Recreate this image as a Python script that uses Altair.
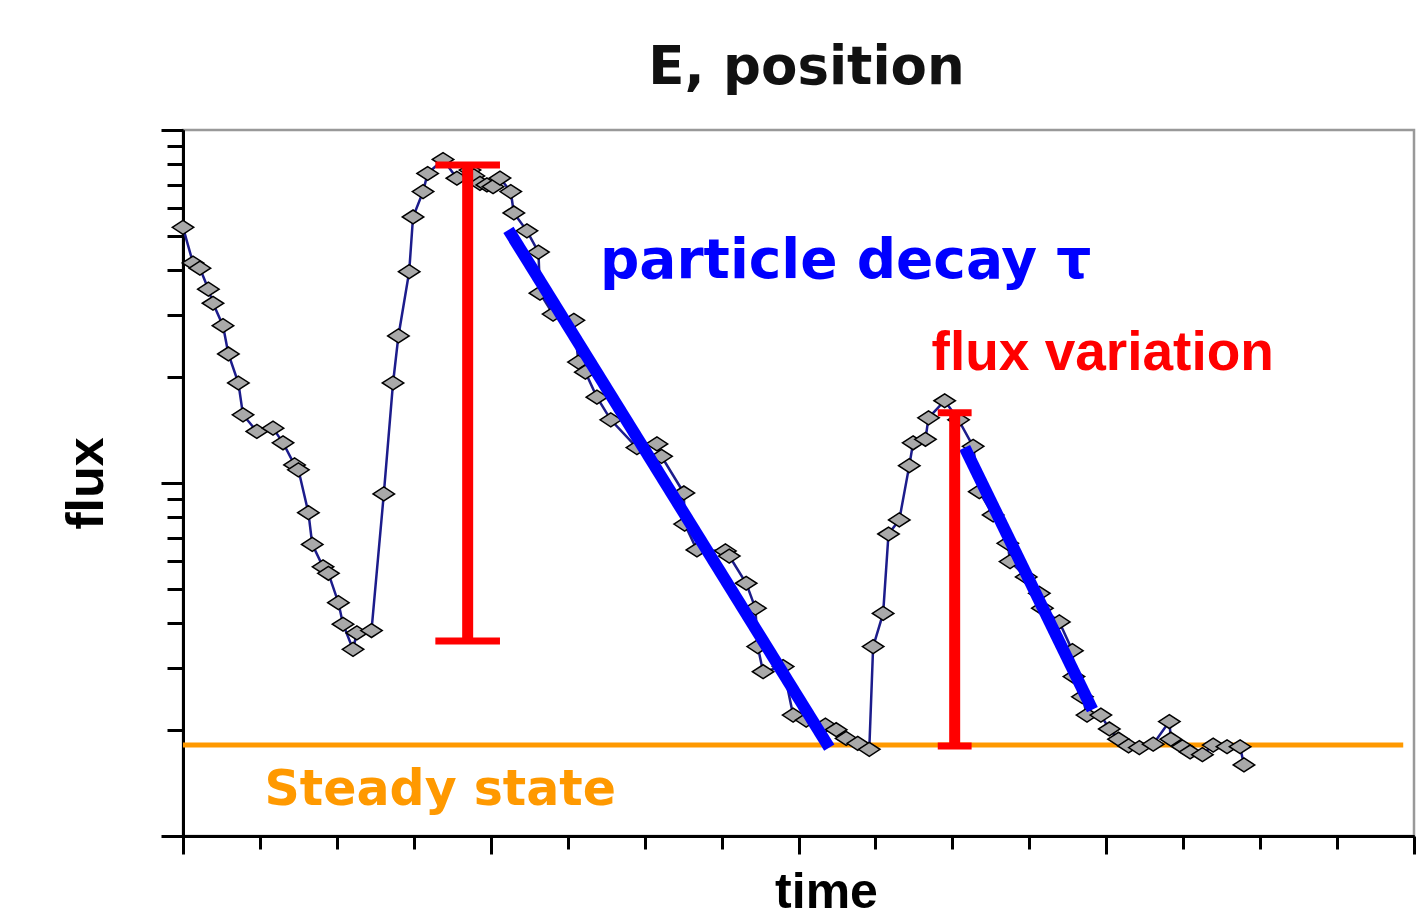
import altair as alt
import pandas as pd

# ---- measured series (time in arbitrary units, flux on log scale) ----
time_vals = [0.00, 0.13, 0.22, 0.33, 0.39, 0.52, 0.59, 0.72, 0.78, 0.96,
             1.17, 1.30, 1.45, 1.50, 1.63, 1.68, 1.82, 1.89, 2.02, 2.08,
             2.21, 2.26, 2.45, 2.61, 2.73, 2.80, 2.94, 2.99, 3.12, 3.18,
             3.38, 3.56, 3.73, 3.78, 3.86, 3.95, 4.03, 4.12, 4.26, 4.30,
             4.47, 4.62, 4.64, 4.81, 5.08, 5.14, 5.23, 5.38, 5.56, 5.90,
             6.16, 6.22, 6.51, 6.52, 6.68, 7.05, 7.10, 7.32, 7.44, 7.47,
             7.54, 7.80, 7.93, 8.10, 8.35, 8.49, 8.62, 8.77, 8.92, 8.97,
             9.10, 9.17, 9.31, 9.44, 9.49, 9.65, 9.69, 9.90, 10.08, 10.27,
             10.35, 10.53, 10.72, 10.75, 10.96, 11.13, 11.17, 11.39, 11.56, 11.58,
             11.69, 11.75, 11.93, 12.04, 12.16, 12.29, 12.43, 12.61, 12.82, 12.84,
             12.99, 13.09, 13.25, 13.39, 13.57, 13.74, 13.79]
flux_vals = [53.0, 42.0, 40.6, 35.4, 32.3, 27.9, 23.2, 19.2, 15.6, 14.0,
             14.3, 13.0, 11.25, 10.9, 8.24, 6.70, 5.79, 5.55, 4.58, 3.98,
             3.38, 3.76, 3.82, 9.31, 19.2, 26.1, 39.7, 56.7, 66.9, 75.3,
             82.5, 73.0, 77.0, 74.1, 70.6, 69.9, 69.1, 73.1, 66.9, 58.2,
             51.8, 45.1, 34.5, 30.1, 28.9, 22.0, 20.6, 17.5, 15.1, 12.6,
             12.9, 11.9, 9.37, 7.65, 6.46, 6.42, 6.21, 5.20, 4.42, 3.44,
             2.92, 3.02, 2.20, 2.13, 2.06, 2.00, 1.89, 1.83, 1.76, 3.44,
             4.27, 7.17, 7.86, 11.2, 13.0, 13.3, 15.3, 17.1, 15.1, 12.7,
             9.45, 8.12, 6.75, 5.99, 5.42, 4.87, 4.42, 4.04, 3.35, 2.83,
             2.48, 2.20, 2.20, 2.01, 1.88, 1.80, 1.78, 1.82, 2.11, 1.88,
             1.79, 1.73, 1.70, 1.81, 1.79, 1.79, 1.59]

# ---- decay fits ----
fit_id = ["fit1", "fit1", "fit2", "fit2"]
fit_time = [4.23, 8.40, 10.16, 11.82]
fit_flux = [52.1, 1.78, 12.6, 2.28]

# ---- flux variation bars ----
bar_time = [3.70, 10.03]
bar_top = [79.6, 15.8]
bar_bottom = [3.57, 1.80]
cap_left = [3.28, 9.81]
cap_right = [4.12, 10.25]

# ---- steady state ----
steady_flux = [1.81]
steady_start = [0.0]
steady_end = [15.86]

# ---- annotations ----
label_text = ["particle decay τ", "flux variation", "Steady state"]
label_time = [5.42, 9.73, 1.06]
label_flux = [38.1, 20.9, 1.224]

x_minor_ticks = [1, 2, 3, 5, 6, 7, 9, 10, 11, 13, 14, 15]
x_major_ticks = [0, 4, 8, 12, 16]
y_minor_ticks = [2, 3, 4, 5, 6, 7, 8, 9, 20, 30, 40, 50, 60, 70, 80, 90]
y_major_ticks = [1, 10, 100]

df = pd.DataFrame({"time": time_vals, "flux": flux_vals})
fit_df = pd.DataFrame({"fit": fit_id, "time": fit_time, "flux": fit_flux})
bar_df = pd.DataFrame({"time": bar_time, "top": bar_top, "bottom": bar_bottom,
                       "left": cap_left, "right": cap_right})
steady_df = pd.DataFrame({"start": steady_start, "end": steady_end, "flux": steady_flux})
lab_df = pd.DataFrame({"text": label_text, "time": label_time, "flux": label_flux})

xs = alt.Scale(domain=[0, 16], nice=False, zero=False)
ys = alt.Scale(type="log", domain=[1, 100], nice=False)

common = dict(labels=False, grid=False, domainColor="black", domainWidth=3,
              tickColor="black", tickWidth=3)

x_minor = alt.Axis(values=x_minor_ticks, tickSize=13, title="", orient="bottom", **common)
x_major = alt.Axis(values=x_major_ticks, tickSize=18, title="time", orient="bottom",
                   titleFont="Liberation Sans", titleFontWeight="bold", titleFontSize=50,
                   titleColor="black", titlePadding=12, titleX=643, **common)
y_minor = alt.Axis(values=y_minor_ticks, tickSize=16, title="", orient="left", **common)
y_major = alt.Axis(values=y_major_ticks, tickSize=22, title="flux", orient="left",
                   titleFont="Liberation Sans", titleFontWeight="bold", titleFontSize=52,
                   titleColor="black", titlePadding=46, **common)

steady = alt.Chart(steady_df).mark_rule(color="#ff9900", strokeWidth=5).encode(
    x=alt.X("start:Q", scale=xs, axis=None), x2="end:Q",
    y=alt.Y("flux:Q", scale=ys, axis=None))

line = alt.Chart(df).mark_line(color="#1c1c8c", strokeWidth=2.5).encode(
    x=alt.X("time:Q", scale=xs, axis=x_minor),
    y=alt.Y("flux:Q", scale=ys, axis=y_minor))

pts = alt.Chart(df).mark_point(
    shape="M -1 0 L 0 -0.65 L 1 0 L 0 0.65 Z", size=460, filled=True,
    fill="#a9a9a9", stroke="#000000", strokeWidth=1.5, opacity=1).encode(
    x=alt.X("time:Q", scale=xs, axis=x_major),
    y=alt.Y("flux:Q", scale=ys, axis=y_major))

fits = alt.Chart(fit_df).mark_line(color="#0000ff", strokeWidth=12, strokeCap="butt").encode(
    x=alt.X("time:Q", scale=xs, axis=None),
    y=alt.Y("flux:Q", scale=ys, axis=None),
    detail="fit:N")

stems = alt.Chart(bar_df).mark_rule(color="#ff0000", strokeWidth=11).encode(
    x=alt.X("time:Q", scale=xs, axis=None),
    y=alt.Y("top:Q", scale=ys, axis=None), y2="bottom:Q")
caps_top = alt.Chart(bar_df).mark_rule(color="#ff0000", strokeWidth=7).encode(
    x=alt.X("left:Q", scale=xs, axis=None), x2="right:Q",
    y=alt.Y("top:Q", scale=ys, axis=None))
caps_bot = alt.Chart(bar_df).mark_rule(color="#ff0000", strokeWidth=7).encode(
    x=alt.X("left:Q", scale=xs, axis=None), x2="right:Q",
    y=alt.Y("bottom:Q", scale=ys, axis=None))

def label(i, color, font, size):
    return alt.Chart(lab_df.iloc[[i]]).mark_text(
        align="left", baseline="alphabetic", font=font, fontWeight="bold",
        fontSize=size, color=color).encode(
        x=alt.X("time:Q", scale=xs, axis=None),
        y=alt.Y("flux:Q", scale=ys, axis=None),
        text="text:N")

t1 = label(0, "#0000ff", "DejaVu Sans", 55)
t2 = label(1, "#ff0000", "Liberation Sans", 55)
t3 = label(2, "#ff9900", "DejaVu Sans", 49)

chart = alt.layer(steady, line, pts, fits, stems, caps_top, caps_bot, t1, t2, t3).resolve_axis(
    x="independent", y="independent"
).properties(
    width=1231, height=706,
    autosize=alt.AutoSizeParams(type="none"),
    padding={"left": 183, "top": 130, "right": 13, "bottom": 82},
    title=alt.TitleParams(text="E, position", font="DejaVu Sans", fontWeight="bold",
                          fontSize=53, color="#111111", offset=-8, baseline="alphabetic",
                          frame="group", dx=8, anchor="middle"),
    background="white",
).configure_view(stroke="#999999", strokeWidth=2.5)

chart.save("out.html", embed_options={"renderer": "svg", "actions": False})
